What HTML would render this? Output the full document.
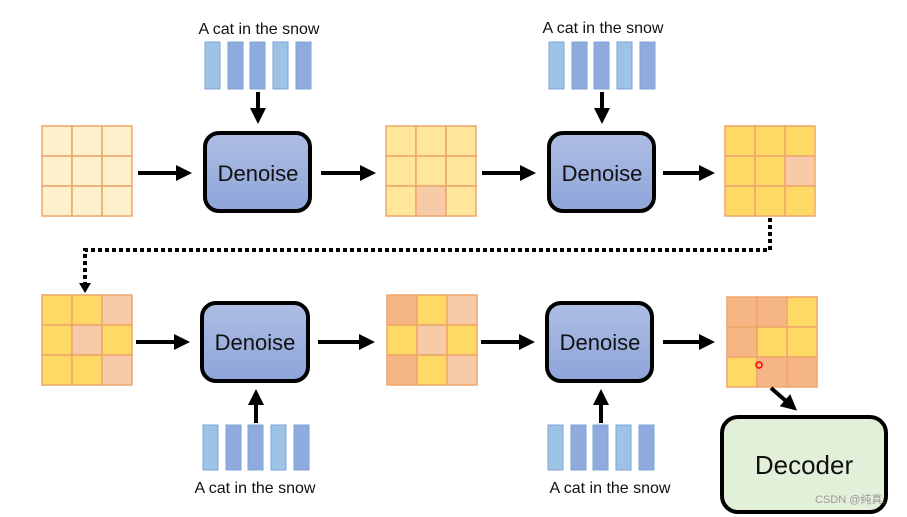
<!DOCTYPE html>
<html><head><style>body{margin:0;background:#fff}svg{display:block}text{font-family:"Liberation Sans","Noto Sans CJK SC",sans-serif}</style></head>
<body>
<svg width="907" height="517" viewBox="0 0 907 517" xmlns="http://www.w3.org/2000/svg">
<defs>
<marker id="ah" markerWidth="4" markerHeight="4" refX="3" refY="2" orient="auto" markerUnits="strokeWidth"><path d="M0,0 L4,2 L0,4 z" fill="#000"/></marker>
<linearGradient id="bg" x1="0" y1="0" x2="0" y2="1"><stop offset="0" stop-color="#aebde3"/><stop offset="1" stop-color="#8ea5da"/></linearGradient>
</defs>
<g stroke="#eea66c" stroke-width="1.5">
<g fill="#fff0cc"><rect x="42" y="126" width="30" height="30"/><rect x="72" y="126" width="30" height="30"/><rect x="102" y="126" width="30" height="30"/><rect x="42" y="156" width="30" height="30"/><rect x="72" y="156" width="30" height="30"/><rect x="102" y="156" width="30" height="30"/><rect x="42" y="186" width="30" height="30"/><rect x="72" y="186" width="30" height="30"/><rect x="102" y="186" width="30" height="30"/></g>
<g fill="#ffe699"><rect x="386" y="126" width="30" height="30"/><rect x="416" y="126" width="30" height="30"/><rect x="446" y="126" width="30" height="30"/><rect x="386" y="156" width="30" height="30"/><rect x="416" y="156" width="30" height="30"/><rect x="446" y="156" width="30" height="30"/><rect x="386" y="186" width="30" height="30"/><rect x="416" y="186" width="30" height="30" fill="#f8cba8"/><rect x="446" y="186" width="30" height="30"/></g>
<g fill="#ffd966"><rect x="725" y="126" width="30" height="30"/><rect x="755" y="126" width="30" height="30"/><rect x="785" y="126" width="30" height="30"/><rect x="725" y="156" width="30" height="30"/><rect x="755" y="156" width="30" height="30"/><rect x="785" y="156" width="30" height="30" fill="#f8cba8"/><rect x="725" y="186" width="30" height="30"/><rect x="755" y="186" width="30" height="30"/><rect x="785" y="186" width="30" height="30"/></g>
<g fill="#ffd966"><rect x="42" y="295" width="30" height="30"/><rect x="72" y="295" width="30" height="30"/><rect x="102" y="295" width="30" height="30" fill="#f8cba8"/><rect x="42" y="325" width="30" height="30"/><rect x="72" y="325" width="30" height="30" fill="#f8cba8"/><rect x="102" y="325" width="30" height="30"/><rect x="42" y="355" width="30" height="30"/><rect x="72" y="355" width="30" height="30"/><rect x="102" y="355" width="30" height="30" fill="#f8cba8"/></g>
<g fill="#ffd966"><rect x="387" y="295" width="30" height="30" fill="#f5b585"/><rect x="417" y="295" width="30" height="30"/><rect x="447" y="295" width="30" height="30" fill="#f8cba8"/><rect x="387" y="325" width="30" height="30"/><rect x="417" y="325" width="30" height="30" fill="#f8cba8"/><rect x="447" y="325" width="30" height="30"/><rect x="387" y="355" width="30" height="30" fill="#f5b585"/><rect x="417" y="355" width="30" height="30"/><rect x="447" y="355" width="30" height="30" fill="#f8cba8"/></g>
<g fill="#f5b585"><rect x="727" y="297" width="30" height="30"/><rect x="757" y="297" width="30" height="30"/><rect x="787" y="297" width="30" height="30" fill="#ffd966"/><rect x="727" y="327" width="30" height="30"/><rect x="757" y="327" width="30" height="30" fill="#ffd966"/><rect x="787" y="327" width="30" height="30" fill="#ffd966"/><rect x="727" y="357" width="30" height="30" fill="#ffd966"/><rect x="757" y="357" width="30" height="30"/><rect x="787" y="357" width="30" height="30"/></g>
</g>
<g stroke="#7fa3d6" stroke-width="1">
<g transform="translate(205,42)"><rect x="0" width="15" height="47" fill="#9dc3e6"/><rect x="23" width="15" height="47" fill="#8faadc"/><rect x="45" width="15" height="47" fill="#8faadc"/><rect x="68" width="15" height="47" fill="#9dc3e6"/><rect x="91" width="15" height="47" fill="#8faadc"/></g>
<g transform="translate(549,42)"><rect x="0" width="15" height="47" fill="#9dc3e6"/><rect x="23" width="15" height="47" fill="#8faadc"/><rect x="45" width="15" height="47" fill="#8faadc"/><rect x="68" width="15" height="47" fill="#9dc3e6"/><rect x="91" width="15" height="47" fill="#8faadc"/></g>
<g transform="translate(203,425)"><rect x="0" width="15" height="45" fill="#9dc3e6"/><rect x="23" width="15" height="45" fill="#8faadc"/><rect x="45" width="15" height="45" fill="#8faadc"/><rect x="68" width="15" height="45" fill="#9dc3e6"/><rect x="91" width="15" height="45" fill="#8faadc"/></g>
<g transform="translate(548,425)"><rect x="0" width="15" height="45" fill="#9dc3e6"/><rect x="23" width="15" height="45" fill="#8faadc"/><rect x="45" width="15" height="45" fill="#8faadc"/><rect x="68" width="15" height="45" fill="#9dc3e6"/><rect x="91" width="15" height="45" fill="#8faadc"/></g>
</g>
<g font-size="16" fill="#111" text-anchor="middle">
<text x="259" y="34">A cat in the snow</text><text x="603" y="33">A cat in the snow</text>
<text x="255" y="493">A cat in the snow</text><text x="610" y="493">A cat in the snow</text>
</g>
<g stroke="#000" stroke-width="4" fill="url(#bg)">
<rect x="205" y="133" width="105" height="78" rx="14"/><rect x="549" y="133" width="105" height="78" rx="14"/>
<rect x="202" y="303" width="106" height="78" rx="14"/><rect x="547" y="303" width="105" height="78" rx="14"/>
</g>
<g font-size="22" fill="#111" text-anchor="middle">
<text x="258" y="181">Denoise</text><text x="602" y="181">Denoise</text>
<text x="255" y="350">Denoise</text><text x="600" y="350">Denoise</text>
</g>
<rect x="722" y="417" width="164" height="95" rx="16" fill="#e2efd9" stroke="#000" stroke-width="4"/>
<text x="804" y="474" font-size="26" text-anchor="middle" fill="#111">Decoder</text>
<g stroke="#000" stroke-width="4" marker-end="url(#ah)">
<line x1="138" y1="173" x2="188" y2="173"/><line x1="321" y1="173" x2="372" y2="173"/><line x1="482" y1="173" x2="532" y2="173"/><line x1="663" y1="173" x2="711" y2="173"/>
<line x1="136" y1="342" x2="186" y2="342"/><line x1="318" y1="342" x2="371" y2="342"/><line x1="481" y1="342" x2="531" y2="342"/><line x1="663" y1="342" x2="711" y2="342"/>
<line x1="258" y1="92" x2="258" y2="120"/><line x1="602" y1="92" x2="602" y2="120"/>
<line x1="256" y1="423" x2="256" y2="393"/><line x1="601" y1="423" x2="601" y2="393"/>
<line x1="771" y1="388" x2="794" y2="408"/>
</g>
<polyline points="770,218 770,250 85,250 85,284" fill="none" stroke="#000" stroke-width="4" stroke-dasharray="4,3"/>
<path d="M79,283 L91,283 L85,293 z" fill="#000"/>
<circle cx="759" cy="365" r="3" fill="none" stroke="#f00" stroke-width="1.5"/>
<text x="815" y="503" font-size="11" fill="#999">CSDN @纯真.</text>
</svg>
</body></html>
